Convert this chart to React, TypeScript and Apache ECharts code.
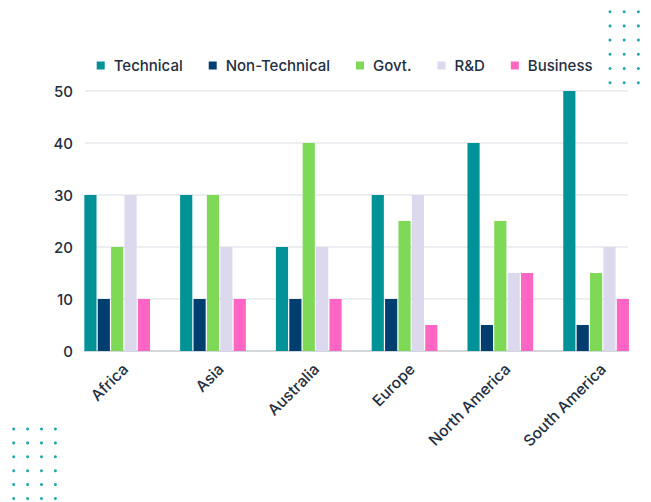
import React, { useEffect, useRef } from "react";
import * as echarts from "echarts";

const categories = ["Africa", "Asia", "Australia", "Europe", "North America", "South America"];
const seriesNames = ["Technical", "Non-Technical", "Govt.", "R&D", "Business"];
const technical = [30, 30, 20, 30, 40, 50];
const nonTechnical = [10, 10, 10, 10, 5, 5];
const govt = [20, 30, 40, 25, 25, 15];
const rnd = [30, 20, 20, 30, 15, 20];
const business = [10, 10, 10, 5, 15, 10];
const yTicks = [0, 10, 20, 30, 40, 50];

const colors = ["#009296", "#003e70", "#7ed957", "#dcd8ee", "#ff66c4"];
const FONT = "Inter, 'Open Sans', sans-serif";
const TEXT = "#1f2e40";

function dotGrid(x0: number, y0: number, cols: number, rows: number, step: number) {
  const out: any[] = [];
  for (let c = 0; c < cols; c++) {
    for (let r = 0; r < rows; r++) {
      out.push({
        type: "circle",
        shape: { cx: x0 + c * step, cy: y0 + r * step, r: 1.5 },
        style: { fill: "#22a6b0" },
        silent: true,
      });
    }
  }
  return out;
}

export default function App() {
  const ref = useRef<HTMLDivElement>(null);
  useEffect(() => {
    if (!ref.current) return;
    const chart = echarts.init(ref.current, null, { renderer: "svg" });
    const values = [technical, nonTechnical, govt, rnd, business];
    chart.setOption({
      animation: false,
      backgroundColor: "#ffffff",
      legend: {
        data: seriesNames,
        left: 91.7,
        top: 53,
        icon: "rect",
        itemWidth: 8,
        itemHeight: 8,
        itemGap: 26,
        textStyle: {
          fontFamily: FONT,
          fontSize: 15,
          color: TEXT,
          fontWeight: 500,
          padding: [0, 0, 0, 4],
        },
      },
      grid: [
        { left: 69.3, width: 574.7, top: 91, bottom: 151 },
        { left: 85, right: 23, top: 91, bottom: 151 },
        { left: 77.5, width: 574.7, top: 91, bottom: 151 },
      ],
      xAxis: [
        {
          type: "category",
          gridIndex: 0,
          data: categories,
          axisLine: { show: false },
          axisTick: { show: false },
          axisLabel: { show: false },
        },
        {
          type: "category",
          gridIndex: 1,
          data: categories,
          axisLine: { show: true, lineStyle: { color: "#d3d7dc", width: 2 } },
          axisTick: { show: false },
          axisLabel: { show: false },
        },
        {
          type: "category",
          gridIndex: 2,
          data: categories,
          axisLine: { show: false },
          axisTick: { show: false },
          axisLabel: {
            rotate: 45,
            margin: 15.5,
            interval: 0,
            fontFamily: FONT,
            fontSize: 15.5,
            fontWeight: 500,
            color: TEXT,
          },
        },
      ],
      yAxis: [
        {
          type: "value",
          gridIndex: 0,
          min: 0,
          max: 50,
          interval: 10,
          show: false,
          splitLine: { show: false },
        },
        {
          type: "value",
          gridIndex: 1,
          min: yTicks[0],
          max: yTicks[yTicks.length - 1],
          interval: 10,
          axisLine: { show: false },
          axisTick: { show: false },
          axisLabel: {
            margin: 12,
            fontFamily: FONT,
            fontSize: 15,
            fontWeight: 500,
            color: TEXT,
          },
          splitLine: { lineStyle: { color: "#e6e8ec", width: 1.5 } },
        },
        {
          type: "value",
          gridIndex: 2,
          min: 0,
          max: 50,
          interval: 10,
          show: false,
          splitLine: { show: false },
        },
      ],
      series: seriesNames.map((name, i) => ({
        name,
        type: "bar",
        xAxisIndex: 0,
        yAxisIndex: 0,
        data: values[i],
        barGap: "10%",
        barCategoryGap: "31.4%",
        itemStyle: { color: colors[i] },
      })),
      color: colors,
      graphic: [...dotGrid(610, 11.7, 4, 6, 14.2), ...dotGrid(13.7, 429, 4, 6, 13.9)],
    });
    return () => chart.dispose();
  }, []);
  return (
    <div
      ref={ref}
      style={{ position: "absolute", left: 0, top: 0, width: 651, height: 502 }}
    />
  );
}
